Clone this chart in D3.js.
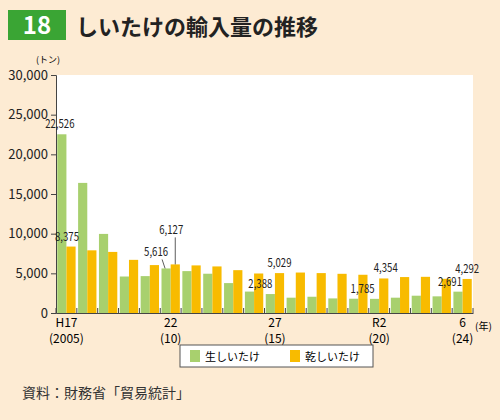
<!DOCTYPE html><html><head><meta charset="utf-8"><script src="https://cdn.jsdelivr.net/npm/d3@7"></script>
<style>body{margin:0;background:#fdebd3}svg{display:block}</style></head><body><svg width="500" height="420"></svg>
<script>
const years=d3.range(2005,2025);
const fresh=[22526,16400,9970,4600,4650,5616,5280,4950,3770,2700,2388,1930,2050,1840,1800,1785,1930,2180,2100,2691];
const dried=[8375,7900,7700,6700,6040,6127,6000,5870,5400,4980,5029,5100,5030,4940,4820,4354,4530,4560,4310,4292];
const yTicks=[0,5000,10000,15000,20000,25000,30000];
const xLabels=[[2005,"H17","(2005)"],[2010,"22","(10)"],[2015,"27","(15)"],[2020,"R2","(20)"],[2024,"6","(24)"]];
const series=["生しいたけ","乾しいたけ"], colors=["#a8d06e","#f8bb00"];
const labels=[[0,0,22526,-2,-6],[0,1,8375,-4,-6],[5,0,5616,-10,-12,true],[5,1,6127,-4,-30,true],[10,0,2388,-10,-6],[10,1,5029,0,-6],[15,0,1785,-12,-6],[15,1,4354,2,-6],[19,0,2691,-8,-6],[19,1,4292,0,-6]];
const svg=d3.select("svg"), f="'Noto Sans CJK JP',sans-serif";
const L=56,R=473,T=75,B=313;
svg.append("rect").attr("x",L).attr("y",T).attr("width",R-L).attr("height",B-T).attr("fill","#fff");
svg.append("rect").attr("x",8).attr("y",10).attr("width",58).attr("height",30).attr("fill","#3aa534");
svg.append("text").attr("x",37).attr("y",34).attr("text-anchor","middle").attr("fill","#fff").attr("font-size",24).attr("font-family",f).attr("font-weight","bold").text("18");
svg.append("text").attr("x",76).attr("y",35).attr("font-size",22).attr("font-family",f).attr("font-weight","bold").attr("fill","#222").text("しいたけの輸入量の推移");
const x=d3.scaleBand().domain(years).range([L,R]).paddingInner(0.12).paddingOuter(0.06);
const y=d3.scaleLinear().domain([0,30000]).range([B,T]);
const bw=x.bandwidth()/2;
[fresh,dried].forEach((vals,s)=>svg.append("g").selectAll("rect").data(vals).join("rect")
 .attr("x",(d,i)=>x(years[i])+s*bw).attr("y",d=>y(d)).attr("width",bw).attr("height",d=>B-y(d)).attr("fill",colors[s]));
const ya=svg.append("g").attr("transform",`translate(${L},0)`).call(d3.axisLeft(y).tickValues(yTicks).tickFormat(d3.format(",")).tickSize(5));
ya.selectAll("text").attr("font-size",13).attr("font-family",f).attr("fill","#222");
ya.selectAll("line,path").attr("stroke","#444");
svg.append("text").attr("x",36).attr("y",63).attr("font-size",9).attr("font-family",f).text("(トン)");
const xa=svg.append("g").attr("transform",`translate(0,${B})`).call(d3.axisBottom(x).tickValues([]).tickSizeOuter(0));
xa.selectAll("path").attr("stroke","#444");
svg.append("g").selectAll("line").data(years.concat([2025])).join("line").attr("x1",(d,i)=>i<20?x(d)-x.step()*x.paddingInner()/2:R).attr("x2",(d,i)=>i<20?x(d)-x.step()*x.paddingInner()/2:R).attr("y1",B).attr("y2",B-5).attr("stroke","#444");
xLabels.forEach(([yr,a,b])=>{const cx=x(yr)+x.bandwidth()/2;
 svg.append("text").attr("x",cx).attr("y",B+14).attr("text-anchor","middle").attr("font-size",12).attr("font-family",f).text(a);
 svg.append("text").attr("x",cx).attr("y",B+30).attr("text-anchor","middle").attr("font-size",12).attr("font-family",f).text(b);});
svg.append("text").attr("x",475).attr("y",330).attr("font-size",10).attr("font-family",f).text("(年)");
labels.forEach(([i,s,v,dx,dy,lead])=>{const cx=x(years[i])+s*bw+bw/2;
 if(lead) svg.append("line").attr("x1",cx-(s?0:1)).attr("x2",cx+(s?0:-4)).attr("y1",y(v)).attr("y2",y(v)+dy+3).attr("stroke","#333").attr("stroke-width",0.8);
 svg.append("text").attr("x",cx+dx).attr("y",y(v)+dy).attr("text-anchor","middle").attr("font-size",12).attr("font-family",f).attr("fill","#222").attr("transform",`translate(${cx+dx},0) scale(0.8,1) translate(${-(cx+dx)},0)`).text(d3.format(",")(v));});
svg.append("rect").attr("x",180).attr("y",345).attr("width",193).attr("height",22).attr("fill","#fff").attr("stroke","#555");
series.forEach((n,i)=>{const gx=190+i*100;
 svg.append("rect").attr("x",gx).attr("y",350).attr("width",10).attr("height",12).attr("fill",colors[i]);
 svg.append("text").attr("x",gx+15).attr("y",361).attr("font-size",11).attr("font-family",f).text(n);});
svg.append("text").attr("x",22).attr("y",398).attr("font-size",14).attr("font-family",f).attr("fill","#333").text("資料：財務省「貿易統計」");
</script></body></html>
